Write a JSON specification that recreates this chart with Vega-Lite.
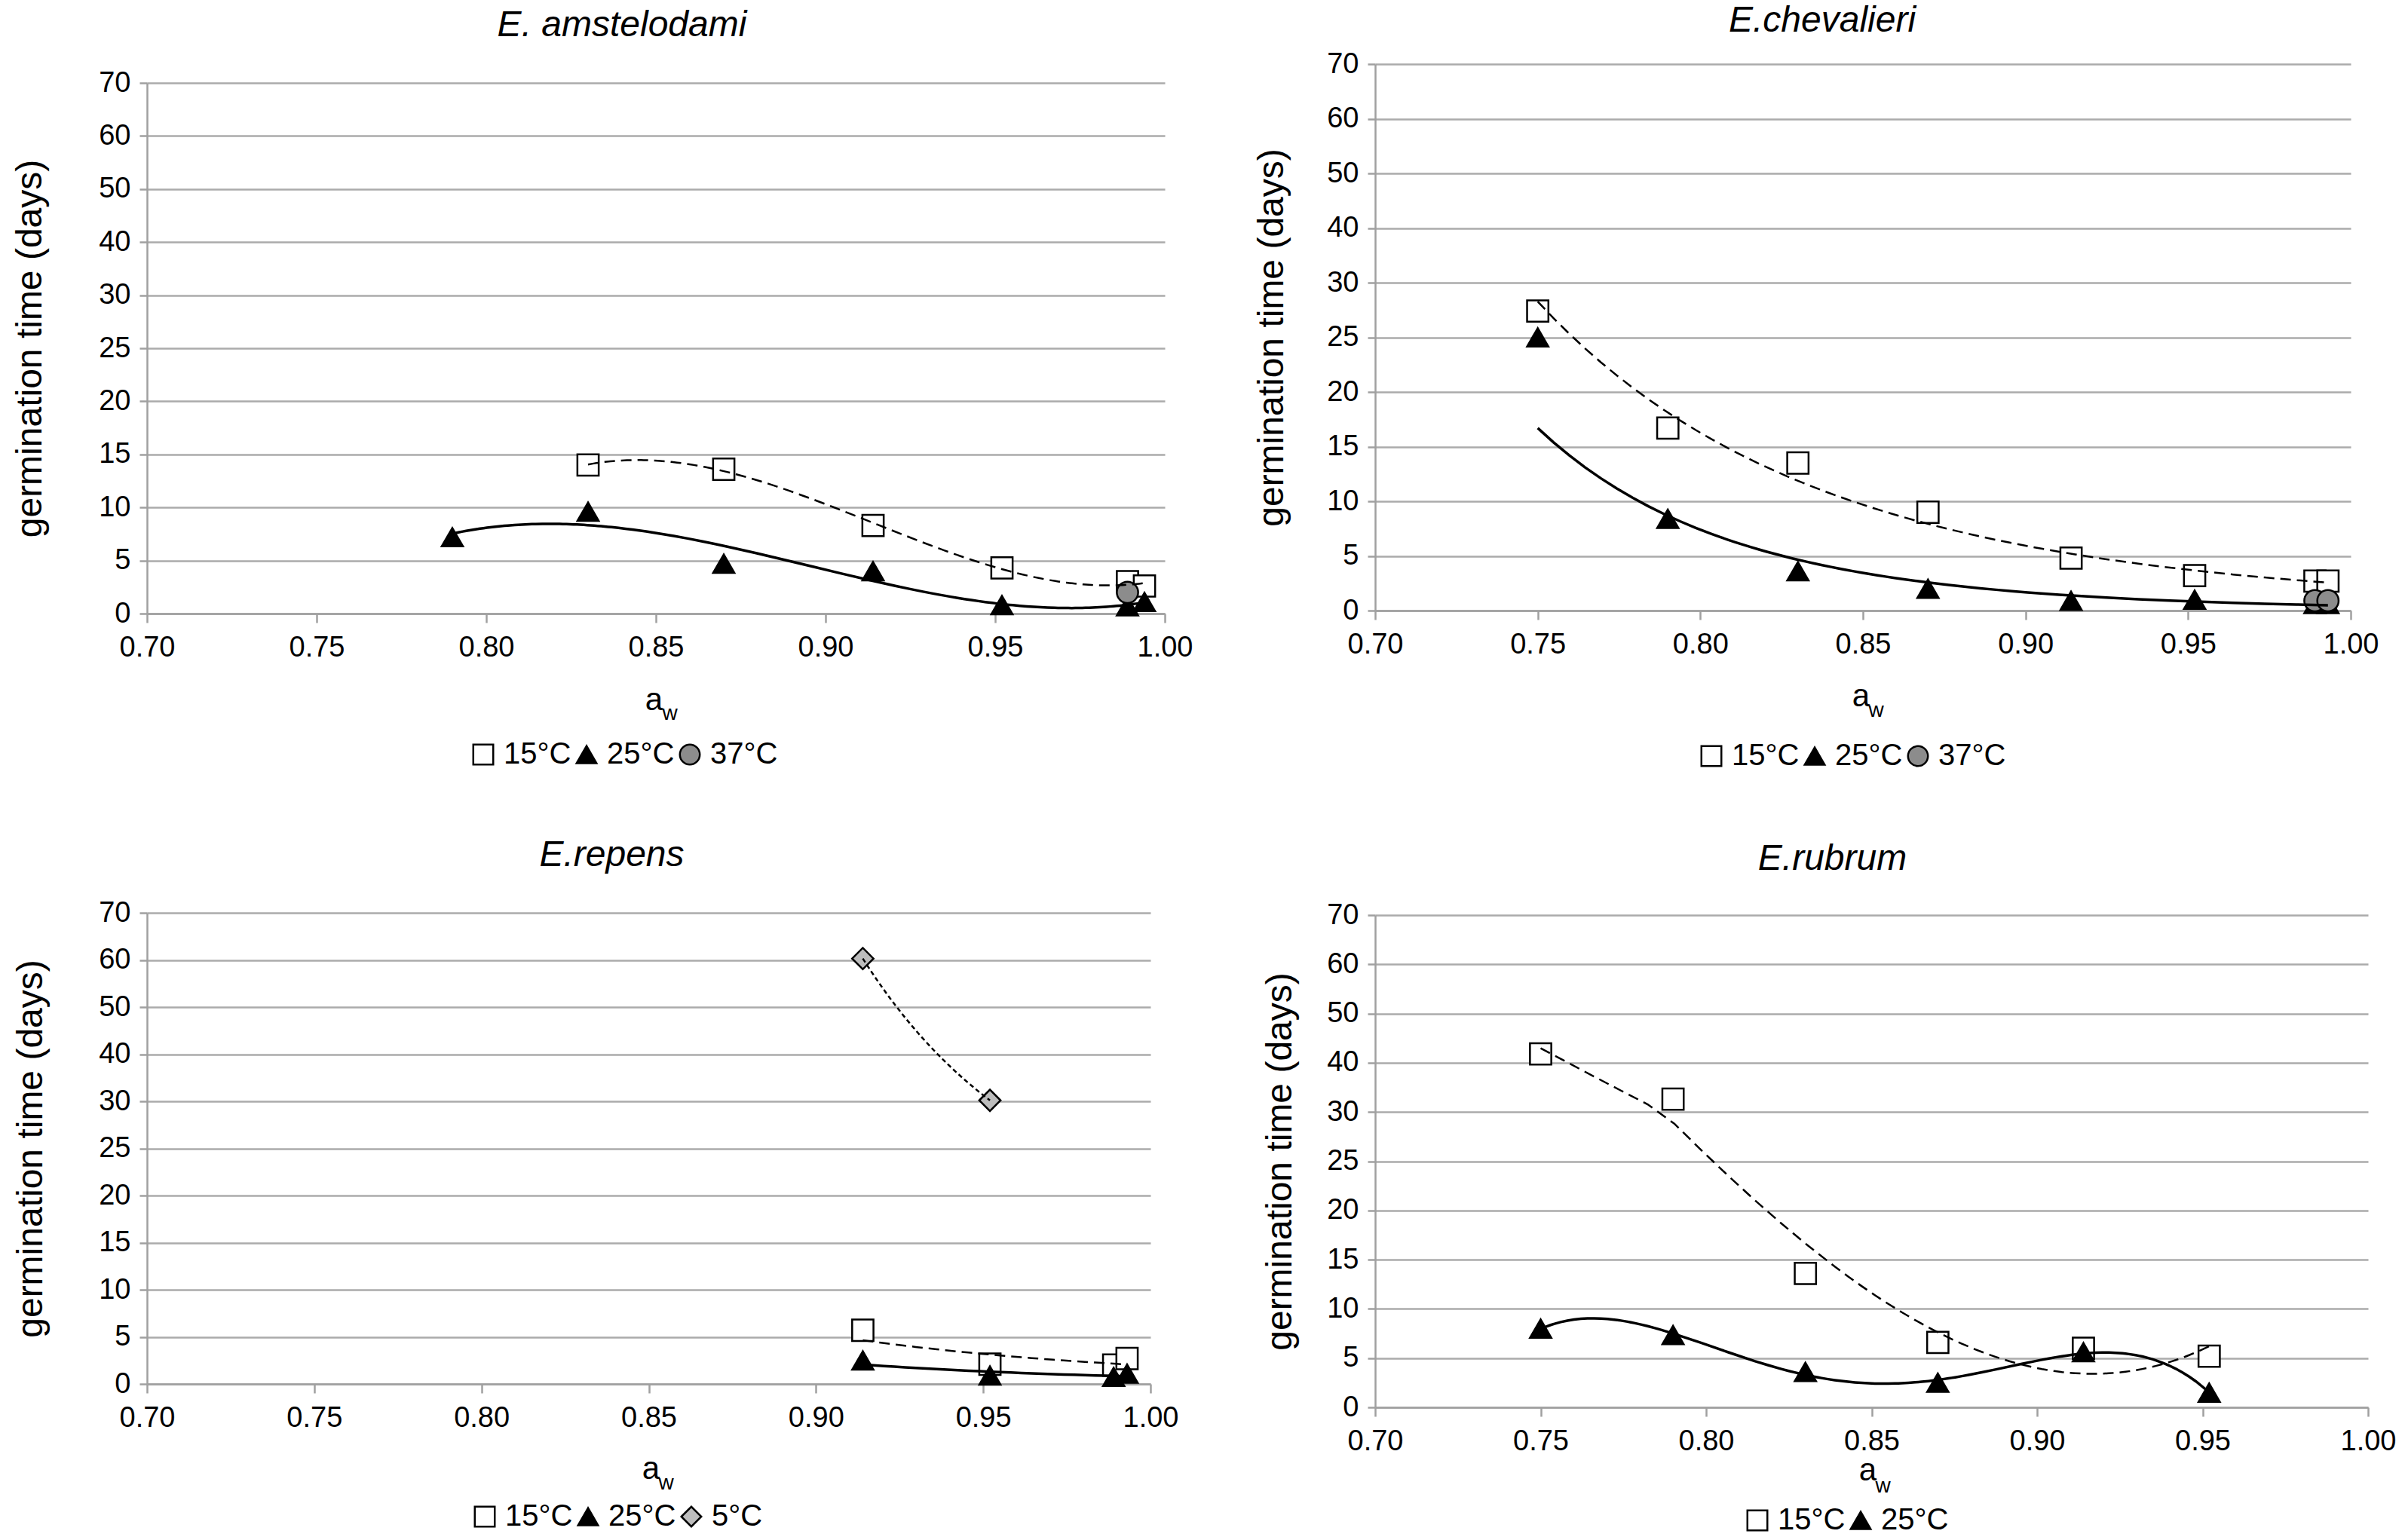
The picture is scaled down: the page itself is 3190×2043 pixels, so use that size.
{
  "$schema": "https://vega.github.io/schema/vega-lite/v6.json",
  "background": "white",
  "padding": {"left": 16, "top": 4, "right": 0, "bottom": 0},
  "data": {
    "values": [
      {"species": "E. amstelodami", "temp": "15°C", "aw": 0.83, "days": 14.0},
      {"species": "E. amstelodami", "temp": "15°C", "aw": 0.87, "days": 13.6},
      {"species": "E. amstelodami", "temp": "15°C", "aw": 0.914, "days": 8.3},
      {"species": "E. amstelodami", "temp": "15°C", "aw": 0.952, "days": 4.3},
      {"species": "E. amstelodami", "temp": "15°C", "aw": 0.989, "days": 3.0},
      {"species": "E. amstelodami", "temp": "15°C", "aw": 0.994, "days": 2.6},
      {"species": "E. amstelodami", "temp": "25°C", "aw": 0.79, "days": 7.2},
      {"species": "E. amstelodami", "temp": "25°C", "aw": 0.83, "days": 9.6},
      {"species": "E. amstelodami", "temp": "25°C", "aw": 0.87, "days": 4.7},
      {"species": "E. amstelodami", "temp": "25°C", "aw": 0.914, "days": 4.0},
      {"species": "E. amstelodami", "temp": "25°C", "aw": 0.952, "days": 0.8},
      {"species": "E. amstelodami", "temp": "25°C", "aw": 0.989, "days": 0.7},
      {"species": "E. amstelodami", "temp": "25°C", "aw": 0.994, "days": 1.1},
      {"species": "E. amstelodami", "temp": "37°C", "aw": 0.989, "days": 2.0},
      {"species": "E.chevalieri", "temp": "15°C", "aw": 0.75, "days": 27.4},
      {"species": "E.chevalieri", "temp": "15°C", "aw": 0.79, "days": 16.7},
      {"species": "E.chevalieri", "temp": "15°C", "aw": 0.83, "days": 13.5},
      {"species": "E.chevalieri", "temp": "15°C", "aw": 0.87, "days": 9.0},
      {"species": "E.chevalieri", "temp": "15°C", "aw": 0.914, "days": 4.8},
      {"species": "E.chevalieri", "temp": "15°C", "aw": 0.952, "days": 3.2},
      {"species": "E.chevalieri", "temp": "15°C", "aw": 0.989, "days": 2.7},
      {"species": "E.chevalieri", "temp": "15°C", "aw": 0.993, "days": 2.7},
      {"species": "E.chevalieri", "temp": "25°C", "aw": 0.75, "days": 25.0},
      {"species": "E.chevalieri", "temp": "25°C", "aw": 0.79, "days": 8.4},
      {"species": "E.chevalieri", "temp": "25°C", "aw": 0.83, "days": 3.6},
      {"species": "E.chevalieri", "temp": "25°C", "aw": 0.87, "days": 2.0},
      {"species": "E.chevalieri", "temp": "25°C", "aw": 0.914, "days": 0.9},
      {"species": "E.chevalieri", "temp": "25°C", "aw": 0.952, "days": 1.0},
      {"species": "E.chevalieri", "temp": "25°C", "aw": 0.989, "days": 0.6},
      {"species": "E.chevalieri", "temp": "25°C", "aw": 0.993, "days": 0.6},
      {"species": "E.chevalieri", "temp": "37°C", "aw": 0.989, "days": 0.9},
      {"species": "E.chevalieri", "temp": "37°C", "aw": 0.993, "days": 0.9},
      {"species": "E.repens", "temp": "15°C", "aw": 0.914, "days": 5.7},
      {"species": "E.repens", "temp": "15°C", "aw": 0.952, "days": 2.1},
      {"species": "E.repens", "temp": "15°C", "aw": 0.989, "days": 2.0},
      {"species": "E.repens", "temp": "15°C", "aw": 0.993, "days": 2.7},
      {"species": "E.repens", "temp": "25°C", "aw": 0.914, "days": 2.5},
      {"species": "E.repens", "temp": "25°C", "aw": 0.952, "days": 0.9},
      {"species": "E.repens", "temp": "25°C", "aw": 0.989, "days": 0.75},
      {"species": "E.repens", "temp": "25°C", "aw": 0.993, "days": 1.1},
      {"species": "E.repens", "temp": "5°C", "aw": 0.914, "days": 60.3},
      {"species": "E.repens", "temp": "5°C", "aw": 0.952, "days": 30.2},
      {"species": "E.rubrum", "temp": "15°C", "aw": 0.75, "days": 41.8},
      {"species": "E.rubrum", "temp": "15°C", "aw": 0.79, "days": 32.6},
      {"species": "E.rubrum", "temp": "15°C", "aw": 0.83, "days": 13.6},
      {"species": "E.rubrum", "temp": "15°C", "aw": 0.87, "days": 6.6},
      {"species": "E.rubrum", "temp": "15°C", "aw": 0.914, "days": 6.0},
      {"species": "E.rubrum", "temp": "15°C", "aw": 0.952, "days": 5.2},
      {"species": "E.rubrum", "temp": "25°C", "aw": 0.75, "days": 8.0},
      {"species": "E.rubrum", "temp": "25°C", "aw": 0.79, "days": 7.35},
      {"species": "E.rubrum", "temp": "25°C", "aw": 0.83, "days": 3.6},
      {"species": "E.rubrum", "temp": "25°C", "aw": 0.87, "days": 2.5},
      {"species": "E.rubrum", "temp": "25°C", "aw": 0.914, "days": 5.6},
      {"species": "E.rubrum", "temp": "25°C", "aw": 0.952, "days": 1.5}
    ]
  },
  "config": {
    "font": "Liberation Sans",
    "view": {"stroke": null},
    "axis": {
      "labelFont": "Liberation Sans", "labelFontSize": 38, "labelColor": "black",
      "titleFont": "Liberation Sans", "titleFontSize": 48, "titleFontWeight": "normal", "titleColor": "black",
      "domainColor": "#a0a0a0", "domainWidth": 2.5, "tickColor": "#a0a0a0", "tickWidth": 2.5,
      "gridColor": "#ababab", "gridWidth": 2.5, "labelPadding": 12
    },
    "axisX": {"grid": false, "tickSize": 12, "labelPadding": 14, "labelFlush": false},
    "axisY": {"grid": true, "tickSize": 10},
    "title": {"font": "Liberation Sans", "fontSize": 48, "fontStyle": "italic", "fontWeight": "normal", "color": "black", "anchor": "middle"},
    "legend": {
      "labelFont": "Liberation Sans", "labelFontSize": 40, "labelColor": "black",
      "symbolSize": 700, "symbolStrokeColor": "black", "symbolStrokeWidth": 2.5,
      "labelOffset": 7, "columnPadding": 0, "symbolOpacity": 1
    }
  },
  "spacing": 81,
  "resolve": {"scale": {"shape": "independent", "fill": "independent"}, "legend": {"shape": "independent", "fill": "independent"}},
  "hconcat": [
    {
      "spacing": 90,
      "resolve": {"scale": {"shape": "independent", "fill": "independent"}, "legend": {"shape": "independent", "fill": "independent"}},
      "vconcat": [
        {
          "width": 1350, "height": 704,
          "title": {"text": "E. amstelodami", "dx": -45, "offset": 33},
          "transform": [{"filter": "datum.species === 'E. amstelodami'"}],
          "encoding": {
            "y": {"field": "days", "type": "quantitative",
              "scale": {"domain": [0, 30, 70], "range": [704, 281.6, 0], "nice": false, "zero": false},
              "axis": {"title": "germination time (days)", "values": [0, 5, 10, 15, 20, 25, 30, 40, 50, 60, 70], "format": "d", "titlePadding": 66}}
          },
          "layer": [
            {
              "mark": {"type": "point", "filled": true, "stroke": "black", "strokeWidth": 2.5, "size": 800, "opacity": 1},
              "encoding": {
                "x": {"field": "aw", "type": "quantitative", "scale": {"domain": [0.7, 1.0], "nice": false, "zero": false},
                  "axis": {"orient": "bottom", "title": "a", "values": [0.7, 0.75, 0.8, 0.85, 0.9, 0.95, 1.0], "format": ".2f", "titleFontSize": 42, "titleX": 672, "titleY": 127, "titleBaseline": "alphabetic", "titleAlign": "center"}},
                "shape": {"field": "temp", "type": "nominal", "scale": {"domain": ["15°C", "25°C", "37°C"], "range": ["square", "triangle-up", "circle"]},
                  "legend": {"orient": "none", "legendX": 426, "legendY": 871, "direction": "horizontal", "title": null, "encode": {"symbols": {"update": {"stroke": {"value": "black"}, "strokeWidth": {"value": 2.5}}}}}},
                "fill": {"field": "temp", "type": "nominal", "scale": {"domain": ["15°C", "25°C", "37°C"], "range": ["white", "black", "#8c8c8c"]},
                  "legend": {"orient": "none", "legendX": 426, "legendY": 871, "direction": "horizontal", "title": null, "encode": {"symbols": {"update": {"stroke": {"value": "black"}, "strokeWidth": {"value": 2.5}}}}}}
              }
            },
            {
              "transform": [{"filter": "datum.temp === '15°C'"}, {"regression": "days", "on": "aw", "method": "poly", "order": 3}],
              "mark": {"type": "line", "color": "black", "strokeWidth": 2.5, "strokeDash": [14, 8]},
              "encoding": {
                "x": {"field": "aw", "type": "quantitative", "scale": {"domain": [0.7, 1.0], "nice": false, "zero": false},
                  "axis": {"orient": "bottom", "title": "w", "labels": false, "ticks": false, "domain": false, "grid": false, "titleFontSize": 28, "titleX": 693, "titleY": 140, "titleBaseline": "alphabetic", "titleAlign": "center"}}
              }
            },
            {
              "transform": [{"filter": "datum.temp === '25°C'"}, {"regression": "days", "on": "aw", "method": "poly", "order": 3}],
              "mark": {"type": "line", "color": "black", "strokeWidth": 3.5},
              "encoding": {
                "x": {"field": "aw", "type": "quantitative", "scale": {"domain": [0.7, 1.0], "nice": false, "zero": false}, "axis": null}
              }
            }
          ],
          "resolve": {"axis": {"x": "independent"}}
        },
        {
          "width": 1331, "height": 625,
          "title": {"text": "E.repens", "dx": -49, "offset": 33},
          "transform": [{"filter": "datum.species === 'E.repens'"}],
          "encoding": {
            "y": {"field": "days", "type": "quantitative",
              "scale": {"domain": [0, 30, 70], "range": [625, 250, 0], "nice": false, "zero": false},
              "axis": {"title": "germination time (days)", "values": [0, 5, 10, 15, 20, 25, 30, 40, 50, 60, 70], "format": "d", "titlePadding": 65}}
          },
          "layer": [
            {
              "mark": {"type": "point", "filled": true, "stroke": "black", "strokeWidth": 2.5, "size": 800, "opacity": 1},
              "encoding": {
                "x": {"field": "aw", "type": "quantitative", "scale": {"domain": [0.7, 1.0], "nice": false, "zero": false},
                  "axis": {"orient": "bottom", "title": "a", "values": [0.7, 0.75, 0.8, 0.85, 0.9, 0.95, 1.0], "format": ".2f", "titleFontSize": 42, "titleX": 668, "titleY": 125, "titleBaseline": "alphabetic", "titleAlign": "center"}},
                "shape": {"field": "temp", "type": "nominal", "scale": {"domain": ["15°C", "25°C", "5°C"], "range": ["square", "triangle-up", "diamond"]},
                  "legend": {"orient": "none", "legendX": 428, "legendY": 781, "direction": "horizontal", "title": null, "encode": {"symbols": {"update": {"stroke": {"value": "black"}, "strokeWidth": {"value": 2.5}}}}}},
                "fill": {"field": "temp", "type": "nominal", "scale": {"domain": ["15°C", "25°C", "5°C"], "range": ["white", "black", "#bdbdbd"]},
                  "legend": {"orient": "none", "legendX": 428, "legendY": 781, "direction": "horizontal", "title": null, "encode": {"symbols": {"update": {"stroke": {"value": "black"}, "strokeWidth": {"value": 2.5}}}}}}
              }
            },
            {
              "transform": [{"filter": "datum.temp === '15°C'"}, {"regression": "days", "on": "aw", "method": "pow"}],
              "mark": {"type": "line", "color": "black", "strokeWidth": 2.5, "strokeDash": [14, 8]},
              "encoding": {
                "x": {"field": "aw", "type": "quantitative", "scale": {"domain": [0.7, 1.0], "nice": false, "zero": false},
                  "axis": {"orient": "bottom", "title": "w", "labels": false, "ticks": false, "domain": false, "grid": false, "titleFontSize": 28, "titleX": 688, "titleY": 139, "titleBaseline": "alphabetic", "titleAlign": "center"}}
              }
            },
            {
              "transform": [{"filter": "datum.temp === '25°C'"}, {"regression": "days", "on": "aw", "method": "pow"}],
              "mark": {"type": "line", "color": "black", "strokeWidth": 3.5},
              "encoding": {
                "x": {"field": "aw", "type": "quantitative", "scale": {"domain": [0.7, 1.0], "nice": false, "zero": false}, "axis": null}
              }
            },
            {
              "transform": [{"filter": "datum.temp === '5°C'"}, {"regression": "days", "on": "aw", "method": "pow"}],
              "mark": {"type": "line", "color": "black", "strokeWidth": 2.5, "strokeDash": [6, 4]},
              "encoding": {
                "x": {"field": "aw", "type": "quantitative", "scale": {"domain": [0.7, 1.0], "nice": false, "zero": false}, "axis": null}
              }
            }
          ],
          "resolve": {"axis": {"x": "independent"}}
        }
      ]
    },
    {
      "spacing": 93,
      "resolve": {"scale": {"shape": "independent", "fill": "independent"}, "legend": {"shape": "independent", "fill": "independent"}},
      "vconcat": [
        {
          "width": 1294, "height": 700,
          "title": {"text": "E.chevalieri", "dx": -54, "offset": 14},
          "transform": [{"filter": "datum.species === 'E.chevalieri'"}],
          "encoding": {
            "y": {"field": "days", "type": "quantitative",
              "scale": {"domain": [0, 30, 70], "range": [700, 265, -25], "nice": false, "zero": false},
              "axis": {"title": "germination time (days)", "values": [0, 5, 10, 15, 20, 25, 30, 40, 50, 60, 70], "format": "d", "titlePadding": 48}}
          },
          "layer": [
            {
              "mark": {"type": "point", "filled": true, "stroke": "black", "strokeWidth": 2.5, "size": 800, "opacity": 1},
              "encoding": {
                "x": {"field": "aw", "type": "quantitative", "scale": {"domain": [0.7, 1.0], "nice": false, "zero": false},
                  "axis": {"orient": "bottom", "title": "a", "values": [0.7, 0.75, 0.8, 0.85, 0.9, 0.95, 1.0], "format": ".2f", "titleFontSize": 42, "titleX": 644, "titleY": 126, "titleBaseline": "alphabetic", "titleAlign": "center"}},
                "shape": {"field": "temp", "type": "nominal", "scale": {"domain": ["15°C", "25°C", "37°C"], "range": ["square", "triangle-up", "circle"]},
                  "legend": {"orient": "none", "legendX": 426, "legendY": 873, "direction": "horizontal", "title": null, "encode": {"symbols": {"update": {"stroke": {"value": "black"}, "strokeWidth": {"value": 2.5}}}}}},
                "fill": {"field": "temp", "type": "nominal", "scale": {"domain": ["15°C", "25°C", "37°C"], "range": ["white", "black", "#8c8c8c"]},
                  "legend": {"orient": "none", "legendX": 426, "legendY": 873, "direction": "horizontal", "title": null, "encode": {"symbols": {"update": {"stroke": {"value": "black"}, "strokeWidth": {"value": 2.5}}}}}}
              }
            },
            {
              "transform": [{"filter": "datum.temp === '15°C'"}, {"regression": "days", "on": "aw", "method": "pow"}],
              "mark": {"type": "line", "color": "black", "strokeWidth": 2.5, "strokeDash": [14, 8]},
              "encoding": {
                "x": {"field": "aw", "type": "quantitative", "scale": {"domain": [0.7, 1.0], "nice": false, "zero": false},
                  "axis": {"orient": "bottom", "title": "w", "labels": false, "ticks": false, "domain": false, "grid": false, "titleFontSize": 28, "titleX": 664, "titleY": 140, "titleBaseline": "alphabetic", "titleAlign": "center"}}
              }
            },
            {
              "transform": [{"filter": "datum.temp === '25°C'"}, {"regression": "days", "on": "aw", "method": "pow"}],
              "mark": {"type": "line", "color": "black", "strokeWidth": 3.5},
              "encoding": {
                "x": {"field": "aw", "type": "quantitative", "scale": {"domain": [0.7, 1.0], "nice": false, "zero": false}, "axis": null}
              }
            }
          ],
          "resolve": {"axis": {"x": "independent"}}
        },
        {
          "width": 1317, "height": 653,
          "title": {"text": "E.rubrum", "dx": -52, "offset": 31},
          "transform": [{"filter": "datum.species === 'E.rubrum'"}],
          "encoding": {
            "y": {"field": "days", "type": "quantitative",
              "scale": {"domain": [0, 30, 70], "range": [653, 261.2, 0], "nice": false, "zero": false},
              "axis": {"title": "germination time (days)", "values": [0, 5, 10, 15, 20, 25, 30, 40, 50, 60, 70], "format": "d", "titlePadding": 37}}
          },
          "layer": [
            {
              "mark": {"type": "point", "filled": true, "stroke": "black", "strokeWidth": 2.5, "size": 800, "opacity": 1},
              "encoding": {
                "x": {"field": "aw", "type": "quantitative", "scale": {"domain": [0.7, 1.0], "nice": false, "zero": false},
                  "axis": {"orient": "bottom", "title": "a", "values": [0.7, 0.75, 0.8, 0.85, 0.9, 0.95, 1.0], "format": ".2f", "titleFontSize": 42, "titleX": 653, "titleY": 96, "titleBaseline": "alphabetic", "titleAlign": "center"}},
                "shape": {"field": "temp", "type": "nominal", "scale": {"domain": ["15°C", "25°C"], "range": ["square", "triangle-up"]},
                  "legend": {"orient": "none", "legendX": 487, "legendY": 783, "direction": "horizontal", "title": null, "encode": {"symbols": {"update": {"stroke": {"value": "black"}, "strokeWidth": {"value": 2.5}}}}}},
                "fill": {"field": "temp", "type": "nominal", "scale": {"domain": ["15°C", "25°C"], "range": ["white", "black"]},
                  "legend": {"orient": "none", "legendX": 487, "legendY": 783, "direction": "horizontal", "title": null, "encode": {"symbols": {"update": {"stroke": {"value": "black"}, "strokeWidth": {"value": 2.5}}}}}}
              }
            },
            {
              "transform": [{"filter": "datum.temp === '15°C'"}, {"regression": "days", "on": "aw", "method": "poly", "order": 3}],
              "mark": {"type": "line", "color": "black", "strokeWidth": 2.5, "strokeDash": [14, 8]},
              "encoding": {
                "x": {"field": "aw", "type": "quantitative", "scale": {"domain": [0.7, 1.0], "nice": false, "zero": false},
                  "axis": {"orient": "bottom", "title": "w", "labels": false, "ticks": false, "domain": false, "grid": false, "titleFontSize": 28, "titleX": 673, "titleY": 112, "titleBaseline": "alphabetic", "titleAlign": "center"}}
              }
            },
            {
              "transform": [{"filter": "datum.temp === '25°C'"}, {"regression": "days", "on": "aw", "method": "poly", "order": 4}],
              "mark": {"type": "line", "color": "black", "strokeWidth": 3.5},
              "encoding": {
                "x": {"field": "aw", "type": "quantitative", "scale": {"domain": [0.7, 1.0], "nice": false, "zero": false}, "axis": null}
              }
            }
          ],
          "resolve": {"axis": {"x": "independent"}}
        }
      ]
    }
  ]
}
